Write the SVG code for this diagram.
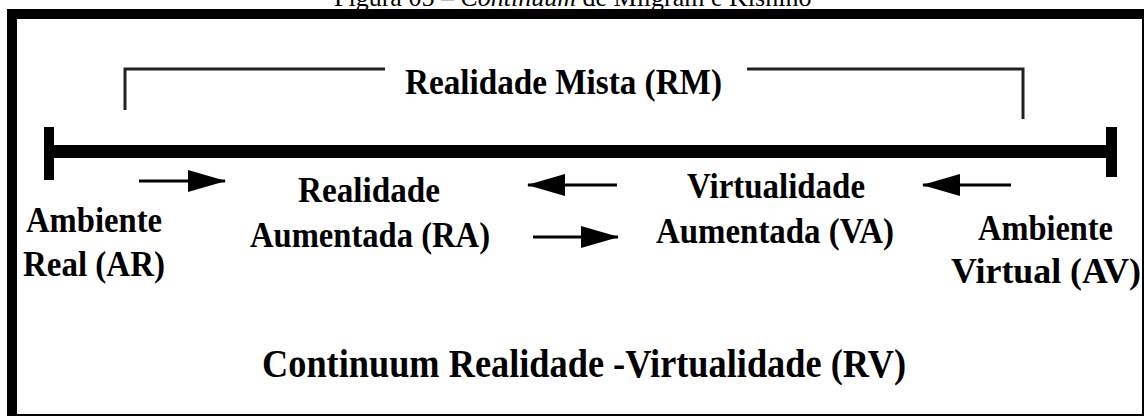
<svg xmlns="http://www.w3.org/2000/svg" width="1145" height="417" viewBox="0 0 1145 417">
  <style>
    .lbl { font-family: "Liberation Serif", "Times New Roman", serif; font-weight: bold; font-size: 35px; fill: #000; }
    .big { font-size: 39px; }
    .cap { font-family: "Liberation Serif", "Times New Roman", serif; font-size: 26px; fill: #000; }
    .arrow { stroke: #000; stroke-width: 3; fill: none; marker-end: url(#ah); }
    .bracket { stroke: #222; stroke-width: 3; fill: none; }
  </style>
  <defs>
    <marker id="ah" markerUnits="userSpaceOnUse" markerWidth="38" markerHeight="22" viewBox="0 0 38 22" refX="37" refY="11" orient="auto">
      <path d="M0,0 L38,11 L0,22 Z" fill="#000"/>
    </marker>
  </defs>
  <rect width="1145" height="417" fill="#fff"/>
  <text class="cap" x="334" y="5.5">Figura 05 – <tspan font-style="italic">Continuum</tspan> de Milgram e Kishino</text>

  <g id="frame">
    <rect x="8" y="10" width="1135" height="405" fill="#fff" stroke="#000" stroke-width="2"/>
    <path d="M7,416 L7,15 Q7,9 13,9 L1144,9 L1144,19 L17,19 L17,416 Z" fill="#000"/>
  </g>

  <g id="axis">
    <rect x="54" y="145" width="1052" height="13" fill="#000"/>
    <rect x="44" y="127" width="10" height="53" fill="#000"/>
    <rect x="1106" y="127" width="11" height="50" fill="#000"/>
  </g>

  <g id="connectors">
    <path class="bracket" d="M125,110 V69 H385"/>
    <path class="bracket" d="M747,69 H1023 V119"/>
    <line class="arrow" x1="139" y1="181" x2="225" y2="181"/>
    <line class="arrow" x1="617" y1="185" x2="528" y2="185"/>
    <line class="arrow" x1="533" y1="237" x2="618" y2="237"/>
    <line class="arrow" x1="1011" y1="185" x2="923" y2="185"/>
  </g>

  <g id="rm">
    <text class="lbl" x="405" y="94" textLength="317" lengthAdjust="spacingAndGlyphs">Realidade Mista (RM)</text>
  </g>
  <g id="ar">
    <text class="lbl" x="26" y="232" textLength="136" lengthAdjust="spacingAndGlyphs">Ambiente</text>
    <text class="lbl" x="23" y="276" textLength="142" lengthAdjust="spacingAndGlyphs">Real (AR)</text>
  </g>
  <g id="ra">
    <text class="lbl" x="298" y="202" textLength="142" lengthAdjust="spacingAndGlyphs">Realidade</text>
    <text class="lbl" x="250" y="247" textLength="240" lengthAdjust="spacingAndGlyphs">Aumentada (RA)</text>
  </g>
  <g id="va">
    <text class="lbl" x="687" y="198" textLength="178" lengthAdjust="spacingAndGlyphs">Virtualidade</text>
    <text class="lbl" x="656" y="243" textLength="238" lengthAdjust="spacingAndGlyphs">Aumentada (VA)</text>
  </g>
  <g id="av">
    <text class="lbl" x="978" y="240" textLength="135" lengthAdjust="spacingAndGlyphs">Ambiente</text>
    <text class="lbl" x="951" y="283" textLength="190" lengthAdjust="spacingAndGlyphs">Virtual (AV)</text>
  </g>
  <g id="rv">
    <text class="lbl big" x="262" y="377" textLength="644" lengthAdjust="spacingAndGlyphs">Continuum Realidade -Virtualidade (RV)</text>
  </g>
</svg>
